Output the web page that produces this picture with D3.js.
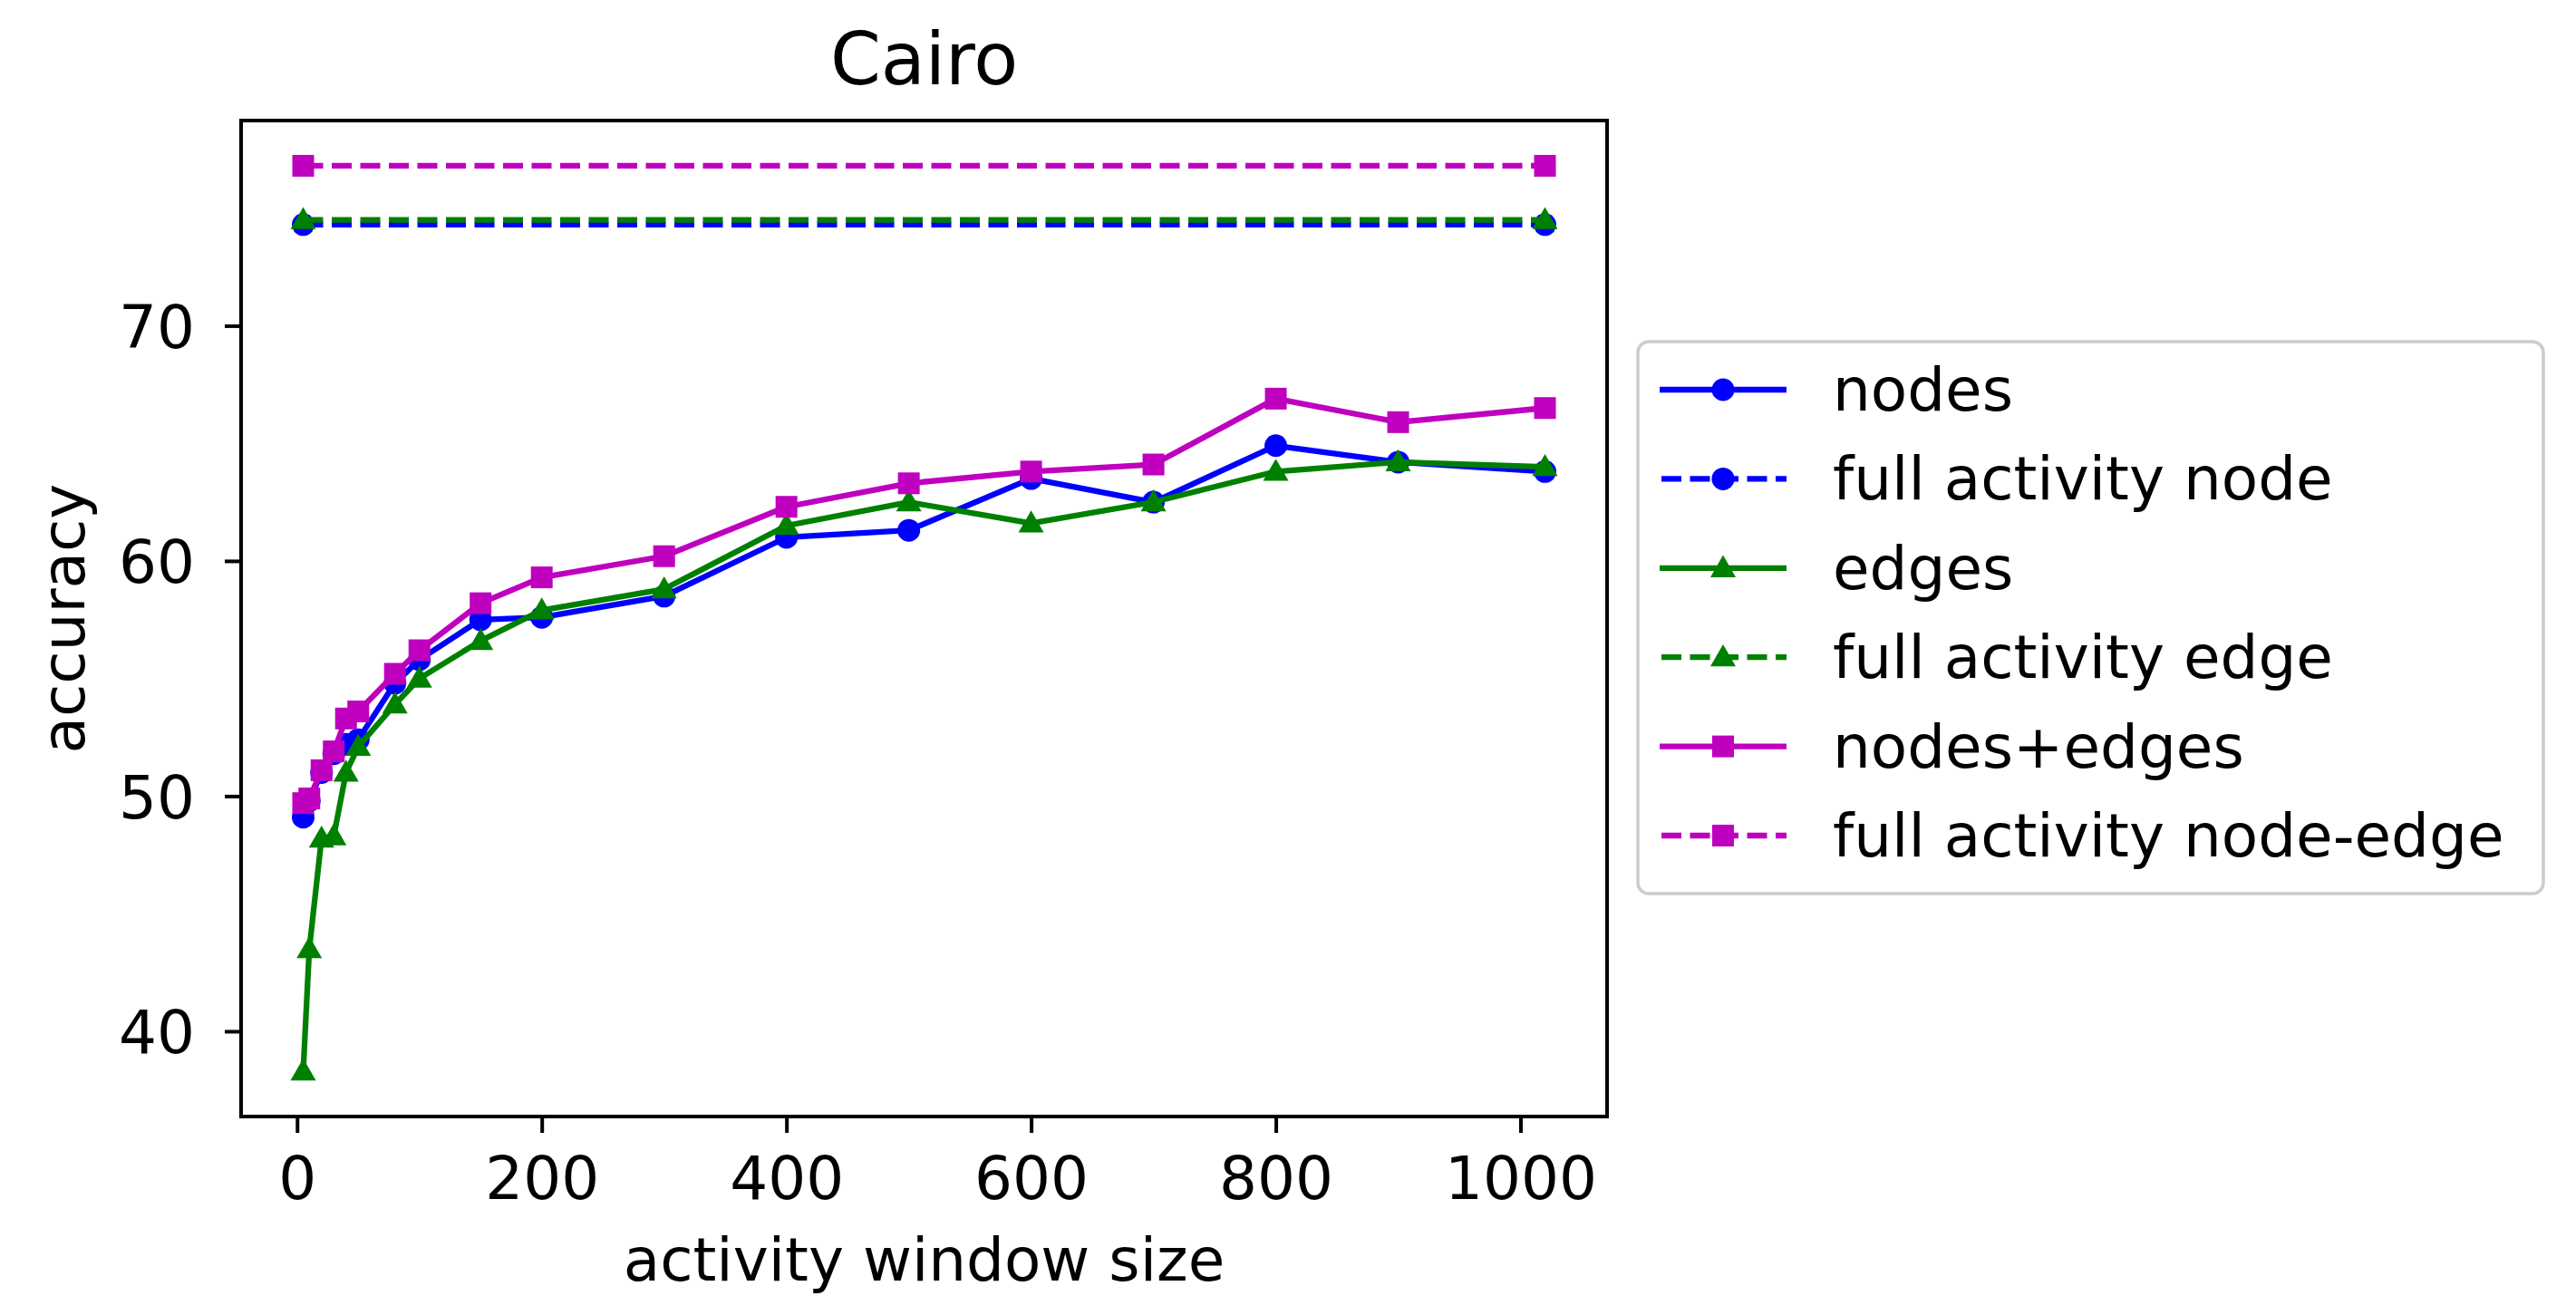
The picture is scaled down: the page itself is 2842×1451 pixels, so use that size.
<!DOCTYPE html>
<html lang="en-us">
<head>
  <meta charset="UTF-8">
  <title>Cairo</title>
  <script src="https://cdn.jsdelivr.net/npm/d3@7"></script>
  <style>
    body { margin: 0; background: #fff; }
    text { font-family: "DejaVu Sans", sans-serif; fill: #000; }
  </style>
</head>
<body>
<div id="chart"></div>
<script>
// window sizes (x)
var windowSizes = [5, 10, 20, 30, 40, 50, 80, 100, 150, 200, 300, 400, 500, 600, 700, 800, 900, 1020];
var fullX = [5, 1020];

// accuracy values
var nodes      = [49.1, 49.8, 51.0, 51.8, 52.2, 52.4, 54.8, 55.8, 57.5, 57.6, 58.5, 61.0, 61.3, 63.5, 62.5, 64.9, 64.2, 63.8];
var edges      = [38.3, 43.5, 48.2, 48.3, 51.0, 52.1, 53.9, 55.0, 56.6, 57.9, 58.8, 61.5, 62.5, 61.6, 62.5, 63.8, 64.2, 64.0];
var nodesEdges = [49.7, 49.9, 51.1, 51.9, 53.3, 53.6, 55.2, 56.2, 58.2, 59.3, 60.2, 62.3, 63.3, 63.8, 64.1, 66.9, 65.9, 66.5];
var fullNode = 74.3, fullEdge = 74.5, fullNodeEdge = 76.8;

var xTicks = [0, 200, 400, 600, 800, 1000];
var yTicks = [40, 50, 60, 70];

var W = 2842, H = 1451;
var m = {left: 266, right: 1773, top: 133, bottom: 1232};

var series = [
  {name: "nodes",                   x: windowSizes, y: nodes,      color: "#0000ff", dash: null,  mark: "circle"},
  {name: "full activity node",      x: fullX, y: fullX.map(function(){ return fullNode; }),     color: "#0000ff", dash: "22,9.5", mark: "circle"},
  {name: "edges",                   x: windowSizes, y: edges,      color: "#008000", dash: null,  mark: "triangle"},
  {name: "full activity edge",      x: fullX, y: fullX.map(function(){ return fullEdge; }),     color: "#008000", dash: "22,9.5", mark: "triangle"},
  {name: "nodes+edges",             x: windowSizes, y: nodesEdges, color: "#bf00bf", dash: null,  mark: "square"},
  {name: "full activity node-edge", x: fullX, y: fullX.map(function(){ return fullNodeEdge; }), color: "#bf00bf", dash: "22,9.5", mark: "square"}
];

// matplotlib style 5% margins
var xmin = 5, xmax = 1020, ymin = 38.3, ymax = 76.8;
var xs = d3.scaleLinear().domain([xmin - 0.05*(xmax-xmin), xmax + 0.05*(xmax-xmin)]).range([m.left, m.right]);
var ys = d3.scaleLinear().domain([ymin - 0.05*(ymax-ymin), ymax + 0.05*(ymax-ymin)]).range([m.bottom, m.top]);

var svg = d3.select("#chart").append("svg").attr("width", W).attr("height", H);

var LW = 6.3;
function marker(g, type, color) {
  if (type == "circle") g.append("circle").attr("r", 12.5).attr("fill", color);
  else if (type == "square") g.append("rect").attr("x", -12).attr("y", -12).attr("width", 24).attr("height", 24).attr("fill", color);
  else g.append("path").attr("d", d3.symbol().type(d3.symbolTriangle).size(340)()).attr("fill", color).attr("transform", "translate(0,2)");
}

var line = d3.line().x(function(d){ return xs(d[0]); }).y(function(d){ return ys(d[1]); });

series.forEach(function(s) {
  var pts = s.x.map(function(x, i){ return [x, s.y[i]]; });
  svg.append("path").datum(pts).attr("d", line)
    .attr("fill", "none").attr("stroke", s.color).attr("stroke-width", LW)
    .attr("stroke-dasharray", s.dash).attr("stroke-linejoin", "round");
  pts.forEach(function(p) {
    var g = svg.append("g").attr("transform", "translate(" + xs(p[0]) + "," + ys(p[1]) + ")");
    marker(g, s.mark, s.color);
  });
});

// axes
var xAxis = svg.append("g").attr("transform", "translate(0," + m.bottom + ")")
  .call(d3.axisBottom(xs).tickValues(xTicks).tickSize(18).tickFormat(d3.format("d")));
var yAxis = svg.append("g").attr("transform", "translate(" + m.left + ",0)")
  .call(d3.axisLeft(ys).tickValues(yTicks).tickSize(18));
[xAxis, yAxis].forEach(function(a) {
  a.select(".domain").remove();
  a.selectAll(".tick line").attr("stroke", "#000").attr("stroke-width", 4);
  a.selectAll(".tick text").style("font-size", "66px").style("font-family", "DejaVu Sans");
});
xAxis.selectAll(".tick text").attr("y", 91).attr("dy", null);
yAxis.selectAll(".tick text").attr("x", -51).attr("dy", "0.36em");

svg.append("rect").attr("x", m.left).attr("y", m.top)
  .attr("width", m.right - m.left).attr("height", m.bottom - m.top)
  .attr("fill", "none").attr("stroke", "#000").attr("stroke-width", 4);

svg.append("text").attr("x", (m.left + m.right)/2).attr("y", 93)
  .attr("text-anchor", "middle").style("font-size", "80px").text("Cairo");
svg.append("text").attr("x", (m.left + m.right)/2).attr("y", 1413)
  .attr("text-anchor", "middle").style("font-size", "66px").text("activity window size");
svg.append("text").attr("transform", "translate(93," + (m.top + m.bottom)/2 + ") rotate(-90)")
  .attr("text-anchor", "middle").style("font-size", "66px").text("accuracy");

// legend
var lg = svg.append("g");
lg.append("rect").attr("x", 1807).attr("y", 377).attr("width", 999).attr("height", 609)
  .attr("rx", 12).attr("fill", "#fff").attr("fill-opacity", 0.8).attr("stroke", "#cccccc").attr("stroke-width", 3.5);
series.forEach(function(s, i) {
  var cy = 430 + i * 98.4;
  lg.append("line").attr("x1", 1831).attr("x2", 1971).attr("y1", cy).attr("y2", cy)
    .attr("stroke", s.color).attr("stroke-width", LW).attr("stroke-dasharray", s.dash ? "22,9.5" : null)
    .attr("stroke-dashoffset", s.dash ? -2 : null);
  var g = lg.append("g").attr("transform", "translate(1901," + cy + ")");
  marker(g, s.mark, s.color);
  lg.append("text").attr("x", 2022).attr("y", cy + 23).style("font-size", "66px").text(s.name);
});
</script>
</body>
</html>
